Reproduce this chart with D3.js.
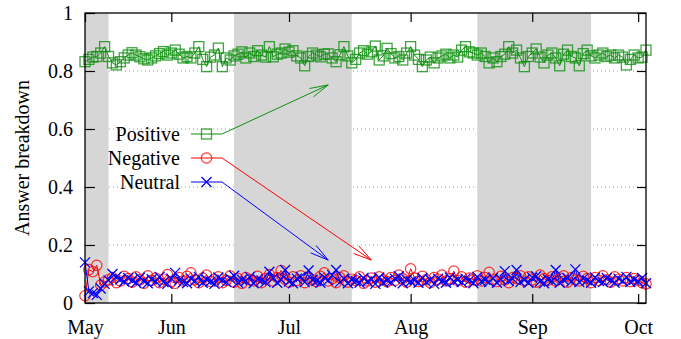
<!DOCTYPE html>
<html><head><meta charset="utf-8">
<script src="https://cdn.jsdelivr.net/npm/d3@7"></script>
<style>body{margin:0;background:#fff}svg text{font-family:"Liberation Serif","Times New Roman",serif;}</style>
</head><body><svg id="c" width="681" height="339"></svg>
<script>
const startDate = "2014-05-10";
const positive = [
.832,.840,.848,.850,.862,.884,.850,.828,.821,.832,.845,.855,
.863,.855,.849,.842,.838,.845,.852,.860,.867,.855,.862,.872,
.858,.845,.850,.845,.862,.884,.840,.815,.848,.855,.879,.815,
.845,.838,.852,.858,.866,.845,.862,.850,.870,.855,.848,.884,
.849,.858,.862,.876,.865,.870,.852,.845,.818,.850,.862,.855,
.849,.858,.859,.845,.832,.856,.884,.852,.828,.840,.862,.870,
.858,.866,.886,.838,.852,.878,.860,.845,.850,.838,.862,.884,
.855,.840,.815,.838,.848,.828,.845,.852,.858,.845,.855,.848,
.872,.884,.866,.862,.855,.862,.850,.828,.845,.832,.850,.858,
.884,.862,.872,.845,.815,.850,.862,.876,.848,.828,.855,.862,
.845,.818,.858,.872,.850,.845,.818,.860,.872,.852,.845,.855,
.862,.850,.855,.845,.855,.848,.821,.840,.855,.845,.848,.872];
const negative = [
.025,.115,.108,.130,.062,.072,.080,.088,.070,.076,.092,.084,
.072,.090,.080,.068,.094,.078,.086,.070,.082,.098,.074,.068,
.088,.076,.092,.104,.080,.070,.086,.096,.074,.082,.090,.070,
.078,.094,.072,.084,.068,.088,.080,.076,.092,.070,.084,.098,
.076,.088,.112,.082,.072,.090,.078,.094,.070,.086,.080,.074,
.092,.104,.076,.084,.070,.088,.094,.072,.082,.078,.090,.068,
.076,.086,.072,.090,.080,.074,.088,.078,.096,.084,.072,.118,
.086,.074,.092,.080,.070,.088,.082,.096,.076,.084,.110,.078,
.090,.072,.086,.080,.094,.076,.088,.106,.082,.074,.092,.080,
.070,.088,.084,.094,.076,.090,.080,.072,.096,.084,.078,.090,
.076,.086,.094,.072,.088,.080,.076,.092,.084,.070,.088,.078,
.094,.080,.072,.090,.082,.076,.088,.074,.084,.078,.070,.066];
const neutral = [
.140,.040,.034,.028,.050,.066,.078,.100,.090,.082,.074,.086,
.078,.070,.088,.076,.068,.082,.074,.090,.072,.066,.084,.104,
.078,.072,.068,.084,.076,.090,.070,.080,.074,.066,.088,.078,
.072,.084,.094,.070,.080,.076,.090,.068,.082,.078,.072,.108,
.086,.070,.080,.114,.074,.068,.084,.090,.072,.112,.080,.076,
.070,.088,.078,.096,.114,.072,.084,.068,.080,.076,.070,.086,
.074,.082,.066,.088,.070,.078,.072,.084,.092,.068,.080,.074,
.078,.070,.086,.072,.080,.066,.084,.076,.070,.088,.074,.080,
.072,.084,.078,.068,.090,.074,.080,.072,.086,.070,.082,.110,
.076,.084,.114,.072,.080,.070,.088,.092,.074,.068,.082,.076,
.114,.070,.080,.086,.074,.116,.072,.084,.078,.070,.088,.076,
.072,.086,.078,.070,.084,.076,.090,.072,.080,.074,.086,.068];
const xDomain = ["2014-05-10","2014-09-30"];
const xTickDates = ["2014-05-10","2014-06-01","2014-07-01","2014-08-01","2014-09-01","2014-09-28"];
const xTickLabels = ["May","Jun","Jul","Aug","Sep","Oct"];
const yTicks = [0,0.2,0.4,0.6,0.8,1];
const yGrid = [0.2,0.4,0.6,0.8];
const shadeBands = [["2014-05-10","2014-05-16"],["2014-06-17","2014-07-17"],["2014-08-18","2014-09-16"]];
const seriesNames = ["Positive","Negative","Neutral"];
const arrowTips = [["2014-07-11",0.752],["2014-07-22",0.148],["2014-07-11",0.148]];

const P = d3.utcParse("%Y-%m-%d");
const W=681,H=339, m={l:85,r:35,t:13,b:36};
const svg=d3.select("#c");
const x=d3.scaleUtc().domain(xDomain.map(P)).range([m.l,W-m.r]);
const y=d3.scaleLinear().domain([0,1]).range([H-m.b,m.t]);
const dates=positive.map((_,i)=>d3.utcDay.offset(P(startDate),i));

// grid
svg.append("g").selectAll("line").data(yGrid).join("line")
 .attr("x1",m.l).attr("x2",W-m.r).attr("y1",d=>y(d)).attr("y2",d=>y(d))
 .attr("stroke","#a0a0a0").attr("stroke-width",1).attr("stroke-dasharray","1,3");
// bands
svg.append("g").selectAll("rect").data(shadeBands).join("rect")
 .attr("x",d=>x(P(d[0]))).attr("width",d=>x(P(d[1]))-x(P(d[0])))
 .attr("y",m.t).attr("height",H-m.b-m.t).attr("fill","#d6d6d6");

// axes
const gx=svg.append("g").attr("transform",`translate(0,${H-m.b})`)
 .call(d3.axisBottom(x).tickValues(xTickDates.map(P)).tickFormat((d,i)=>xTickLabels[i]).tickSizeInner(-9).tickSizeOuter(0).tickPadding(17));
const gxt=svg.append("g").attr("transform",`translate(0,${m.t})`)
 .call(d3.axisTop(x).tickValues(xTickDates.map(P)).tickFormat("").tickSizeInner(-9).tickSizeOuter(0));
const gy=svg.append("g").attr("transform",`translate(${m.l},0)`)
 .call(d3.axisLeft(y).tickValues(yTicks).tickFormat(d=>d===0?"0":d===1?"1":d.toFixed(1)).tickSizeInner(-10).tickSizeOuter(0).tickPadding(12));
const gyr=svg.append("g").attr("transform",`translate(${W-m.r},0)`)
 .call(d3.axisRight(y).tickValues(yTicks).tickFormat("").tickSizeInner(-9).tickSizeOuter(0));
[gx,gxt,gy,gyr].forEach(g=>{g.select(".domain").remove();g.selectAll("line").attr("stroke","#000").attr("stroke-width",1.2);
 g.selectAll("text").attr("font-size",20).attr("fill","#000").attr("font-family","Liberation Serif");});

// series
const cols=["#0e900e","#ff0000","#0000ff"];
const datas=[positive,negative,neutral];
const line=d3.line().x((d,i)=>x(dates[i])).y(d=>y(d));
function marker(g,type,cx,cy,c){
 if(type===0) g.append("rect").attr("x",cx-5).attr("y",cy-5).attr("width",10).attr("height",10).attr("fill","none").attr("stroke",c).attr("stroke-width",1.3).attr("stroke-opacity",0.8);
 else if(type===1) g.append("circle").attr("cx",cx).attr("cy",cy).attr("r",5.2).attr("fill","none").attr("stroke",c).attr("stroke-width",1.2).attr("stroke-opacity",0.8);
 else { g.append("path").attr("d",`M${cx-5},${cy-5}L${cx+5},${cy+5}M${cx-5},${cy+5}L${cx+5},${cy-5}`).attr("stroke",c).attr("stroke-width",1.3).attr("fill","none"); }
}
datas.forEach((arr,k)=>{
 const g=svg.append("g");
 g.append("path").attr("d",line(arr)).attr("fill","none").attr("stroke",cols[k]).attr("stroke-width",1);
 arr.forEach((v,i)=>marker(g,k,x(dates[i]),y(v),cols[k]));
});

// border
svg.append("rect").attr("x",m.l).attr("y",m.t).attr("width",W-m.l-m.r).attr("height",H-m.t-m.b)
 .attr("fill","none").attr("stroke","#000").attr("stroke-width",1.3);

// y title
svg.append("text").attr("transform",`translate(29,${(m.t+H-m.b)/2}) rotate(-90)`).attr("text-anchor","middle")
 .attr("font-size",20).text("Answer breakdown");

// legend + arrows
const legY=[134,158,182];
seriesNames.forEach((n,k)=>{
 const g=svg.append("g");
 g.append("text").attr("x",180).attr("y",legY[k]+7).attr("text-anchor","end").attr("font-size",20).text(n);
 g.append("line").attr("x1",191).attr("x2",222).attr("y1",legY[k]).attr("y2",legY[k]).attr("stroke",cols[k]).attr("stroke-width",1);
 marker(g,k,206.5,legY[k],cols[k]);
 const x0=222,y0=legY[k],x1=x(P(arrowTips[k][0])),y1=y(arrowTips[k][1]);
 const ang=Math.atan2(y1-y0,x1-x0),L=19,a=14*Math.PI/180;
 const p1=[x1-L*Math.cos(ang-a),y1-L*Math.sin(ang-a)],p2=[x1-L*Math.cos(ang+a),y1-L*Math.sin(ang+a)];
 g.append("path").attr("d",`M${x0},${y0}L${x1},${y1}M${p1[0]},${p1[1]}L${x1},${y1}L${p2[0]},${p2[1]}`)
  .attr("fill","none").attr("stroke",cols[k]).attr("stroke-width",1);
});
</script></body></html>
